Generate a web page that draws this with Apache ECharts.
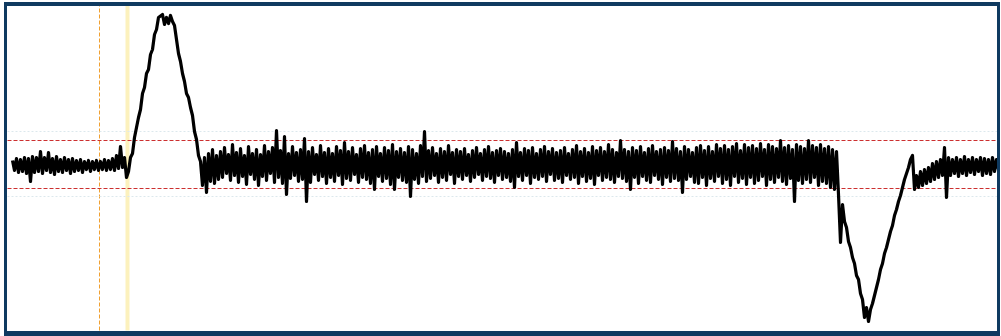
<!DOCTYPE html>
<html>
<head>
<meta charset="utf-8">
<script src="https://cdn.jsdelivr.net/npm/echarts@6/dist/echarts.min.js"></script>
<style>
  html, body { margin: 0; padding: 0; background: #ffffff; }
  #chart { width: 1001px; height: 336px; }
</style>
</head>
<body>
<div id="chart"></div>
<script>
// Sample spacing of the recorded trace (x units per sample)
const STEP = 2;

// Quiet baseline before the first pulse (starts at x = 12)
const baselineStart = 12;
const baseline = [
  3, -7, 5, -9, 4, -8, 6, -10, 5, -18, 7, -9, 6, -8, 12, -10, 6, -7, 11, -9,
  5, -11, 7, -8, 4, -9, 6, -7, 4, -10, 5, -8, 3, -7, 4, -9, 2, -6, 3, -8,
  2, -6, 3, -7, 2, -6, 4, -7, 3, -6, 5, -7, 8, -5, 17, -4, 6, -14
];

// Positive pulse (starts at x = 128)
const pulseUpStart = 128;
const pulseUp = [
  -8, 6, 10, 26, 28, 46, 54, 70, 76, 90, 94, 109, 114, 129, 134, 146,
  144, 149, 139, 146, 140, 148, 142, 138,
  124, 110, 102, 90, 82, 70, 66, 56, 48, 32, 24, 8
];

// Noisy plateau between the pulses (starts at x = 200)
const noiseStart = 200;
const noise = [
  2, -22, 6, -29, 10, -18, 14, -20, 8, -16,
  12, -14, 16, -10, 9, -17, 19, -12, 11, -19,
  15, -13, 8, -21, 17, -11, 10, -16, 14, -22,
  9, -13, 18, -17, 12, -10, 16, -19, 33, -14,
  13, -20, 27, -31, 10, -15, 17, -12, 11, -18,
  14, -16, 25, -38, 12, -19, 16, -11, 9, -17,
  18, -13, 11, -20, 15, -14, 10, -18, 17, -12,
  13, -21, 21, -15, 12, -17, 16, -11, 9, -19,
  15, -14, 18, -16, 11, -20, 14, -26, 17, -13,
  10, -18, 16, -15, 13, -21, 19, -26, 12, -14,
  15, -17, 11, -19, 17, -33, 14, -16, 10, -20,
  18, -13, 32, -18, 13, -15, 16, -12, 10, -19,
  15, -14, 12, -17, 18, -11, 11, -20, 14, -13,
  12, -16, 15, -12, 9, -18, 13, -14, 16, -11,
  10, -17, 14, -13, 17, -15, 11, -19, 13, -12,
  15, -16, 12, -14, 10, -18, 14, -24, 21, -13,
  11, -17, 15, -12, 13, -20, 16, -14, 10, -16,
  14, -13, 17, -18, 12, -11, 15, -17, 11, -15,
  13, -19, 16, -12, 10, -16, 14, -14, 18, -20,
  12, -13, 15, -18, 11, -15, 17, -21, 13, -12,
  16, -17, 12, -14, 19, -16, 14, -19, 11, -13,
  23, -15, 14, -18, 12, -26, 16, -14, 13, -20,
  17, -13, 11, -17, 15, -19, 18, -12, 12, -16,
  14, -21, 16, -14, 13, -18, 22, -15, 15, -17,
  12, -29, 17, -16, 14, -13, 11, -19, 16, -20,
  18, -14, 13, -22, 17, -15, 12, -18, 19, -13,
  15, -20, 18, -16, 14, -22, 17, -13, 20, -19,
  13, -15, 19, -21, 16, -14, 18, -20, 15, -17,
  20, -13, 14, -22, 19, -16, 17, -19, 15, -14,
  23, -18, 16, -21, 18, -15, 14, -38, 19, -17,
  17, -20, 15, -16, 23, -19, 18, -14, 16, -22,
  19, -18, 15, -20, 17, -24, 14, -26, 12
];

// Negative pulse (starts at x = 838)
const pulseDownStart = 838;
const pulseDown = [
  -31, -79, -41, -58, -64, -78, -84, -94, -100, -112, -116, -130, -136, -154,
  -144, -158, -146, -140, -132, -124, -116, -106, -100, -90, -84, -76, -68,
  -62, -52, -46, -38, -32, -24, -16, -10, -4, 4, 8
];

// Recovery back to the baseline (starts at x = 914)
const recoveryStart = 914;
const recovery = [
  -26, -12, -24, -8, -22, -6, -20, -4, -18, 0, -16, 2, -14, 4, -12, 16, -34,
  6, -12, 4, -10, 6, -13, 4, -10, 7, -12, 4, -9, 6, -11, 4, -8, 6, -12,
  5, -10, 4, -11, 6, -8, 4, -6
];

// Detection thresholds and cursor markers
const upperThreshold = 23;
const lowerThreshold = -25;
const guideLevels = [32, -33];
const cursorA = 99;
const cursorB = 127;

// Plot extents
const X_MIN = 7, X_MAX = 997, Y_MIN = -167, Y_MAX = 158;

function toPoints(start, values) {
  return values.map((v, i) => [start + i * STEP, v]);
}

const trace = [].concat(
  toPoints(baselineStart, baseline),
  toPoints(pulseUpStart, pulseUp),
  toPoints(noiseStart, noise),
  toPoints(pulseDownStart, pulseDown),
  toPoints(recoveryStart, recovery)
);

// Straight guide across the plot, as its own line series
function hGuide(level, color, width, dash) {
  return {
    type: 'line', silent: true, showSymbol: false, z: 2,
    data: [[X_MIN, level], [X_MAX, level]],
    lineStyle: { color: color, width: width, type: dash }
  };
}
function vGuide(pos, color, width, dash) {
  return {
    type: 'line', silent: true, showSymbol: false, z: 1,
    data: [[pos, Y_MIN], [pos, Y_MAX]],
    lineStyle: { color: color, width: width, type: dash }
  };
}

const chart = echarts.init(document.getElementById('chart'), null, { renderer: 'canvas' });

const frameColor = '#0f3a60';

chart.setOption({
  backgroundColor: '#ffffff',
  animation: false,
  // half-pixel offsets keep the 1px guides crisp
  grid: { left: X_MIN + 0.5, right: 1001 - X_MAX - 0.5, top: 5.5, bottom: 5.5 },
  xAxis: { type: 'value', min: X_MIN, max: X_MAX, show: false },
  yAxis: { type: 'value', min: Y_MIN, max: Y_MAX, show: false },
  series: [
    vGuide(cursorB, '#fcf1bd', 4, 'solid'),
    vGuide(cursorA, '#f0a030', 1, [4, 2]),
    hGuide(guideLevels[0], '#dce8ed', 1, [2, 2]),
    hGuide(guideLevels[1], '#dce8ed', 1, [2, 2]),
    hGuide(upperThreshold, '#cc3030', 1, [4, 2]),
    hGuide(lowerThreshold, '#cc3030', 1, [4, 2]),
    {
      name: 'signal',
      type: 'line',
      data: trace,
      z: 3,
      showSymbol: false,
      sampling: null,
      silent: true,
      lineStyle: { color: '#000000', width: 3.2, join: 'round' }
    }
  ],
  graphic: [
    { type: 'rect', z: 100, shape: { x: 4, y: 2, width: 996, height: 4 }, style: { fill: frameColor } },
    { type: 'rect', z: 100, shape: { x: 4, y: 2, width: 3, height: 334 }, style: { fill: frameColor } },
    { type: 'rect', z: 100, shape: { x: 997, y: 2, width: 3, height: 334 }, style: { fill: frameColor } },
    { type: 'rect', z: 100, shape: { x: 4, y: 331, width: 996, height: 5 }, style: { fill: frameColor } }
  ]
});
</script>
</body>
</html>
